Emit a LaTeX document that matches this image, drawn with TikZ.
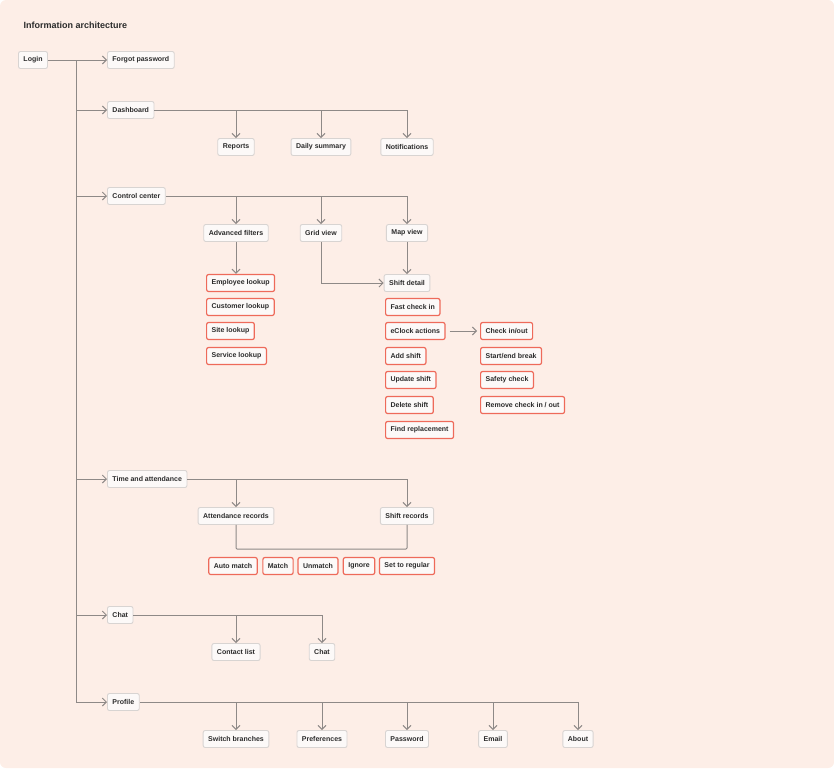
\documentclass[tikz,border=0pt]{standalone}
\usepackage{fontspec}
\setmainfont{Liberation Sans}
\usetikzlibrary{arrows.meta}
\definecolor{bgc}{HTML}{FDEEE7}
\definecolor{boxfill}{HTML}{FCF9F8}
\definecolor{boxdraw}{HTML}{D8D4D2}
\definecolor{redc}{HTML}{EE6A5A}
\definecolor{linec}{HTML}{8E8987}
\definecolor{txt}{HTML}{2B2B2B}
\tikzset{
 gbox/.style={draw=boxdraw,fill=boxfill,line width=0.9pt,rounded corners=2pt,inner xsep=5pt,minimum height=17pt,font=\fontsize{7}{8}\selectfont\bfseries,text=txt},
 rbox/.style={gbox,draw=redc,line width=1.2pt},
 conn/.style={draw=linec,line width=1pt},
 arr/.style={conn,-{Straight Barb[length=4pt,width=8pt]}}
}
\begin{document}
\begin{tikzpicture}[x=1pt,y=-1pt]
\useasboundingbox (0,0) rectangle (834,768);
\fill[bgc,rounded corners=6pt] (0,0) rectangle (834,768);
\node[anchor=west,font=\fontsize{9}{10}\selectfont\bfseries,text=txt] (title) at (20,25) {Information architecture};
% left column
\node[gbox] (login) at (33,60) {Login};
\node[gbox,anchor=west] (forgot) at (107,60) {Forgot password};
\node[gbox,anchor=west] (dash) at (107,110) {Dashboard};
\node[gbox,anchor=west] (cc) at (107,196) {Control center};
\node[gbox,anchor=west] (ta) at (107,479) {Time and attendance};
\node[gbox,anchor=west] (chat) at (107,615) {Chat};
\node[gbox,anchor=west] (prof) at (107,702) {Profile};
\coordinate (t0) at (76,60);
\coordinate (t1) at (76,110);
\coordinate (t2) at (76,196);
\coordinate (t3) at (76,479);
\coordinate (t4) at (76,615);
\coordinate (t5) at (76,702);
\draw[arr] (login) -- (forgot);
\draw[conn] (t0) -- (t5);
\foreach \t/\n in {t1/dash,t2/cc,t3/ta,t4/chat,t5/prof} \draw[arr] (\t) -- (\n);
% dashboard
\node[gbox] (rep) at (236,147) {Reports};
\node[gbox] (daily) at (321,147) {Daily summary};
\node[gbox] (notif) at (407,147) {Notifications};
\draw[conn] (dash) -- (407,110);
\draw[arr] (407,110) -- (notif);
\draw[arr] (236,110) -- (rep);
\draw[arr] (321,110) -- (daily);
% control center
\node[gbox] (adv) at (236,233) {Advanced filters};
\node[gbox] (grid) at (321,233) {Grid view};
\node[gbox] (map) at (407,233) {Map view};
\draw[conn] (cc) -- (407,196);
\draw[arr] (407,196) -- (map);
\draw[arr] (236,196) -- (adv);
\draw[arr] (321,196) -- (grid);
\node[rbox,anchor=west] (emp) at (206,283) {Employee lookup};
\node[rbox,anchor=west] (cust) at (206,307) {Customer lookup};
\node[rbox,anchor=west] (site) at (206,331) {Site lookup};
\node[rbox,anchor=west] (serv) at (206,356) {Service lookup};
\draw[arr] (adv) -- (adv|-emp.north);
\node[gbox] (sd) at (407,283) {Shift detail};
\draw[arr] (map) -- (sd);
\draw[arr] (grid) |- (sd);
\node[rbox,anchor=west] (fast) at (385,307) {Fast check in};
\node[rbox,anchor=west] (eclock) at (385,331) {eClock actions};
\node[rbox,anchor=west] (add) at (385,356) {Add shift};
\node[rbox,anchor=west] (upd) at (385,380) {Update shift};
\node[rbox,anchor=west] (del) at (385,405) {Delete shift};
\node[rbox,anchor=west] (find) at (385,430) {Find replacement};
\node[rbox,anchor=west] (cio) at (480,331) {Check in/out};
\node[rbox,anchor=west] (brk) at (480,356) {Start/end break};
\node[rbox,anchor=west] (safe) at (480,380) {Safety check};
\node[rbox,anchor=west] (rem) at (480,405) {Remove check in / out};
\draw[arr] ([xshift=4pt]eclock.east) -- ([xshift=-3pt]cio.west);
% time and attendance
\node[gbox] (att) at (236,516) {Attendance records};
\node[gbox] (sr) at (407,516) {Shift records};
\draw[conn] (ta) -- (407,479);
\draw[arr] (407,479) -- (sr);
\draw[arr] (236,479) -- (att);
\draw[conn,rounded corners=1pt] (att.south) -- (236,549) -- (407,549) -- (sr.south);
\node[rbox] (auto) at (233,566) {Auto match};
\node[rbox] (match) at (278,566) {Match};
\node[rbox] (unm) at (318,566) {Unmatch};
\node[rbox] (ign) at (359,566) {Ignore};
\node[rbox] (reg) at (407,566) {Set to regular};
% chat
\node[gbox] (contact) at (236,652) {Contact list};
\node[gbox] (chat2) at (322,652) {Chat};
\draw[conn] (chat) -- (322,615);
\draw[arr] (322,615) -- (chat2);
\draw[arr] (236,615) -- (contact);
% profile
\node[gbox] (sw) at (236,739) {Switch branches};
\node[gbox] (pref) at (322,739) {Preferences};
\node[gbox] (pw) at (407,739) {Password};
\node[gbox] (em) at (493,739) {Email};
\node[gbox] (ab) at (578,739) {About};
\draw[conn] (prof) -- (578,702);
\foreach \x/\n in {236/sw,322/pref,407/pw,493/em,578/ab} \draw[arr] (\x,702) -- (\n);
\end{tikzpicture}
\end{document}
